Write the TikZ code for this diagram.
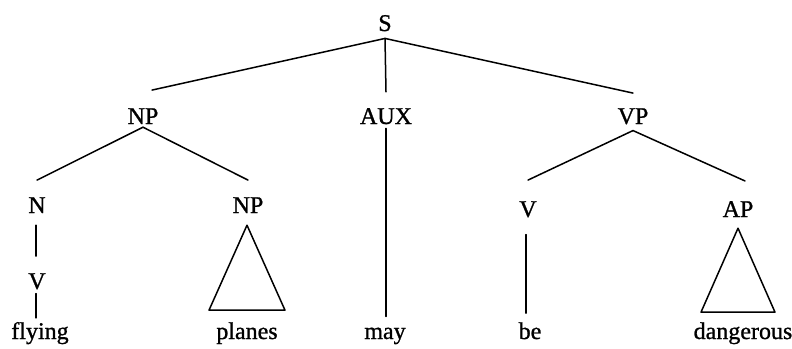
\documentclass[tikz,border=0pt]{standalone}
\usepackage{fontspec}
\setmainfont{Liberation Serif}[FakeBold=1]
\begin{document}
\begin{tikzpicture}[x=1pt,y=-1pt,
  lbl/.style={inner sep=0pt,anchor=base,font=\fontsize{24}{24}\selectfont},
  edge/.style={line width=1.5pt,line cap=round,line join=round}]
\useasboundingbox (0,0) rectangle (792,348);
% category labels
\node[lbl] (S)   at (385,31)  {S};
\node[lbl] (NPa) at (143,124) {NP};
\node[lbl] (AUX) at (386,124) {AUX};
\node[lbl] (VP)  at (633,124) {VP};
\node[lbl] (N)   at (37,213)  {N};
\node[lbl] (NPb) at (248,213) {NP};
\node[lbl] (Va)  at (37,289)  {V};
\node[lbl] (Vb)  at (528,217) {V};
\node[lbl] (AP)  at (738,217) {AP};
% words
\node[lbl] (flying)    at (40,339)  {flying};
\node[lbl] (planes)    at (247,339) {planes};
\node[lbl] (may)       at (385,339) {may};
\node[lbl] (be)        at (530,339) {be};
\node[lbl] (dangerous) at (743,339) {dangerous};
% branches
\draw[edge] ([yshift=-7pt]S.south) -- ([xshift=9pt,yshift=18pt]NPa.north);
\draw[edge] ([yshift=-7pt]S.south) -- ([yshift=16pt]AUX.north);
\draw[edge] ([yshift=-7pt]S.south) -- ([yshift=15pt]VP.north);
\draw[edge] ([yshift=-3pt]NPa.south) -- ([yshift=17pt]N.north);
\draw[edge] ([yshift=-3pt]NPa.south) -- ([yshift=17pt]NPb.north);
\draw[edge] ([yshift=-6pt]VP.south) -- ([yshift=21pt]Vb.north);
\draw[edge] ([yshift=-6pt]VP.south) -- ([xshift=7pt,yshift=20pt]AP.north);
% unary branches, kept vertical under their mother
\draw[edge] ([xshift=-1pt,yshift=-12pt]N.south) -- ([xshift=-1pt,yshift=17pt]Va.north);
\draw[edge] ([xshift=-1pt,yshift=-4pt]Va.south) -- ([xshift=-1pt,yshift=4pt]Va.south |- flying.north);
\draw[edge] ([yshift=-4pt]AUX.south) -- ([yshift=11pt]AUX.south |- may.north);
\draw[edge] ([xshift=-2pt,yshift=-17pt]Vb.south) -- ([xshift=-2pt,yshift=9pt]Vb.south |- be.north);
% roofs over unanalysed phrases
\draw[edge] ([xshift=-1pt,yshift=-12pt]NPb.south) -- ++(38,85) -- ++(-76,0) -- cycle;
\draw[edge] ([yshift=-11pt]AP.south) -- ++(37,84) -- ++(-74,0) -- cycle;
\end{tikzpicture}
\end{document}
